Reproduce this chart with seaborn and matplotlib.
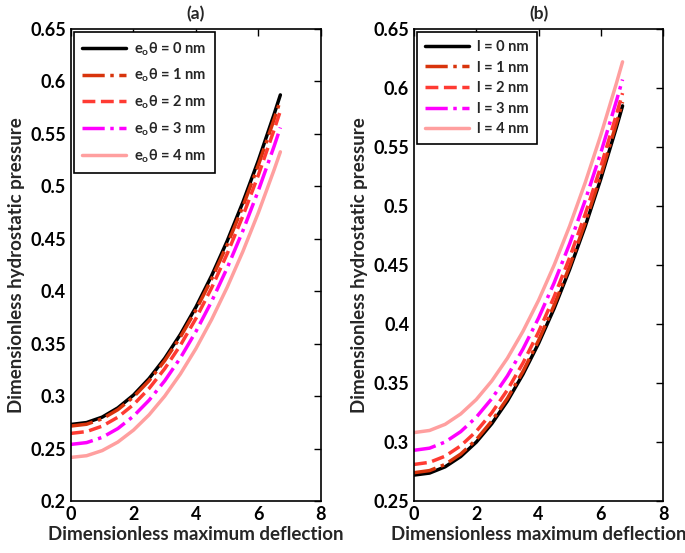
import matplotlib
matplotlib.use("Agg")
import matplotlib.pyplot as plt
import seaborn as sns
import pandas as pd

# deflection samples (same for every curve)
deflection = [0, 0.5, 1, 1.5, 2, 2.5, 3, 3.5, 4, 4.5, 5, 5.5, 6, 6.5, 6.7]

# (a) nonlocal parameter e0*theta
p_e0 = [0.273, 0.2748, 0.280, 0.2888, 0.301, 0.3168, 0.336, 0.3588, 0.385, 0.4148, 0.448, 0.4848, 0.525, 0.5688, 0.5872]
p_e1 = [0.2715, 0.2732, 0.2784, 0.2871, 0.2992, 0.3147, 0.3338, 0.3563, 0.3822, 0.4116, 0.4445, 0.4808, 0.5206, 0.5639, 0.5821]
p_e2 = [0.2645, 0.2662, 0.2714, 0.2799, 0.2919, 0.3073, 0.3262, 0.3484, 0.3741, 0.4032, 0.4358, 0.4717, 0.5111, 0.5539, 0.5720]
p_e3 = [0.254, 0.2557, 0.2607, 0.2691, 0.2809, 0.2961, 0.3146, 0.3364, 0.3617, 0.3903, 0.4223, 0.4576, 0.4963, 0.5383, 0.5561]
p_e4 = [0.2416, 0.2432, 0.2481, 0.2562, 0.2676, 0.2822, 0.3000, 0.3211, 0.3454, 0.3730, 0.4039, 0.4379, 0.4752, 0.5158, 0.5329]

# (b) length scale parameter l
p_l0 = [0.272, 0.2737, 0.2790, 0.2877, 0.2999, 0.3156, 0.3347, 0.3574, 0.3835, 0.4131, 0.4463, 0.4828, 0.5229, 0.5665, 0.5849]
p_l1 = [0.274, 0.2758, 0.2810, 0.2898, 0.302, 0.3178, 0.337, 0.3598, 0.386, 0.4158, 0.449, 0.4858, 0.526, 0.5698, 0.5882]
p_l2 = [0.281, 0.2828, 0.2880, 0.2968, 0.3090, 0.3248, 0.3441, 0.3669, 0.3932, 0.4230, 0.4563, 0.4931, 0.5334, 0.5772, 0.5957]
p_l3 = [0.293, 0.2948, 0.300, 0.3088, 0.321, 0.3368, 0.356, 0.3788, 0.405, 0.4348, 0.468, 0.5048, 0.545, 0.5888, 0.6072]
p_l4 = [0.308, 0.3098, 0.315, 0.3238, 0.336, 0.3518, 0.371, 0.3938, 0.420, 0.4498, 0.483, 0.5198, 0.560, 0.6038, 0.6222]

labels_a = [r'e$_\mathregular{o}$θ = 0 nm', r'e$_\mathregular{o}$θ = 1 nm', r'e$_\mathregular{o}$θ = 2 nm',
            r'e$_\mathregular{o}$θ = 3 nm', r'e$_\mathregular{o}$θ = 4 nm']
labels_b = ['l = 0 nm', 'l = 1 nm', 'l = 2 nm', 'l = 3 nm', 'l = 4 nm']

colors = ['#000000', '#d8340c', '#ff3b33', '#ff00ff', '#ff9f9f']
styles = ['-', '-.', '--', '-.', '-']

sns.set_style("white")
plt.rcParams['font.family'] = ['Lato', 'DejaVu Sans']
plt.rcParams['font.weight'] = 'bold'
plt.rcParams['mathtext.fontset'] = 'custom'
plt.rcParams['mathtext.rm'] = 'Lato:bold'

fig = plt.figure(figsize=(6.85, 5.53), dpi=100)
ax_a = fig.add_axes([0.1036, 0.094, 0.365, 0.8535])
ax_b = fig.add_axes([0.6044, 0.094, 0.3635, 0.8535])


def draw_panel(ax, series, labels, ylim, yticks, title, spacing):
    for vals, lab, c, ls in zip(series, labels, colors, styles):
        df = pd.DataFrame({'w': deflection, 'p': vals})
        sns.lineplot(data=df, x='w', y='p', ax=ax, color=c, linestyle=ls,
                     linewidth=2.5, label=lab)
    ax.set_xlim(0, 8)
    ax.set_ylim(*ylim)
    ax.set_xticks([0, 2, 4, 6, 8])
    ax.set_xticklabels(['0', '2', '4', '6', '8'])
    ax.set_yticks(yticks)
    ax.set_yticklabels([f'{t:g}' for t in yticks])
    ax.tick_params(direction='in', top=True, right=True, length=5, width=1,
                   labelsize=13, colors='black')
    for sp in ax.spines.values():
        sp.set_color('black')
        sp.set_linewidth(1.2)
    ax.set_xlabel('Dimensionless maximum deflection', fontsize=13.5, fontweight='bold', labelpad=2)
    ax.set_ylabel('Dimensionless hydrostatic pressure', fontsize=13.5, fontweight='bold', labelpad=4)
    ax.set_title(title, fontsize=12.5, fontweight='bold', pad=7)
    leg = ax.legend(loc='upper left', fontsize=10.5, frameon=True, fancybox=False,
                    edgecolor='black', framealpha=1, borderaxespad=0.2,
                    handlelength=3.0, labelspacing=spacing, borderpad=0.55,
                    handletextpad=0.6)
    leg.get_frame().set_linewidth(1.2)


draw_panel(ax_a, [p_e0, p_e1, p_e2, p_e3, p_e4], labels_a, (0.2, 0.65),
           [0.2, 0.25, 0.3, 0.35, 0.4, 0.45, 0.5, 0.55, 0.6, 0.65], '(a)', 0.62)
draw_panel(ax_b, [p_l0, p_l1, p_l2, p_l3, p_l4], labels_b, (0.25, 0.65),
           [0.25, 0.3, 0.35, 0.4, 0.45, 0.5, 0.55, 0.6, 0.65], '(b)', 0.45)

fig.savefig('out.png', dpi=100)
